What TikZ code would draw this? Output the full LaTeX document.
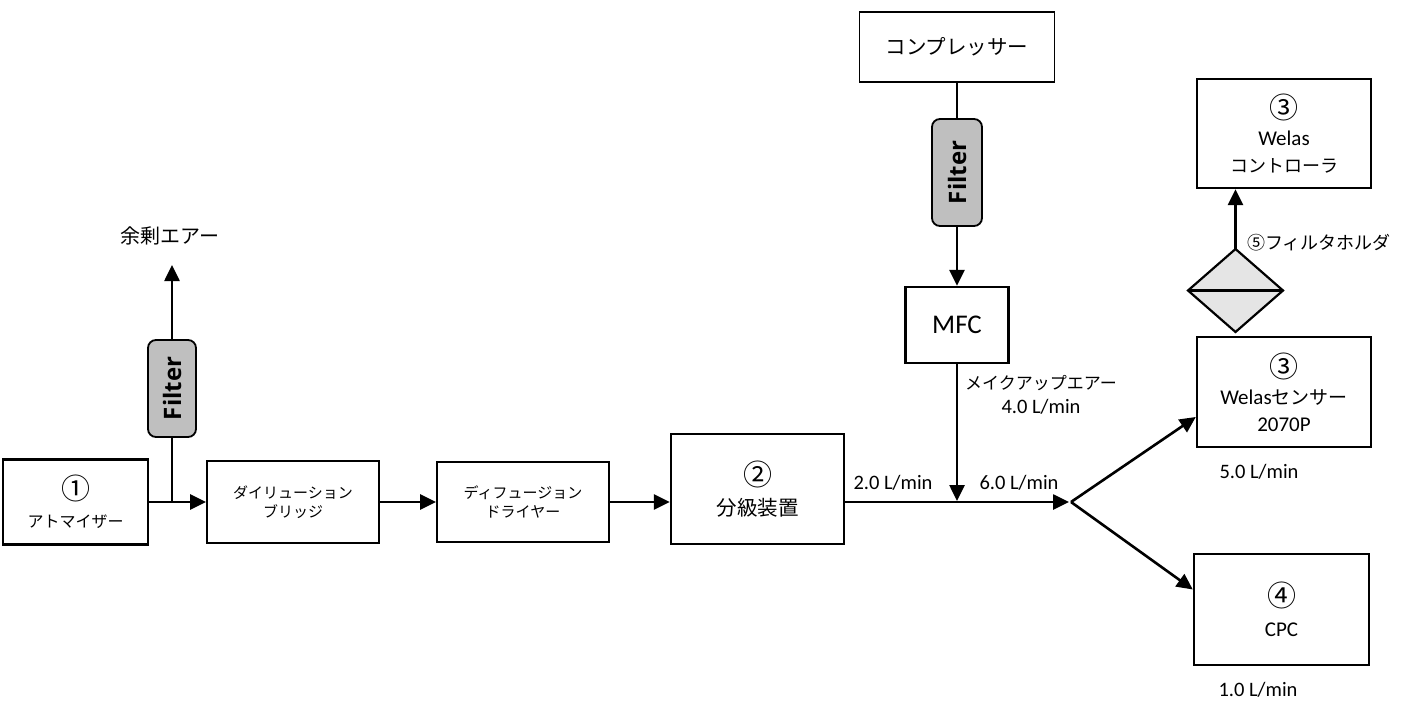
\documentclass[tikz,border=0pt]{standalone}
\usepackage{fontspec}
\usepackage{graphicx}
\newfontfamily\jpf{Noto Sans CJK JP}
\newfontfamily\calf{Carlito}
\newfontfamily\osbf{Open Sans}
\usetikzlibrary{arrows.meta}
\newcommand{\fsz}[1]{\fontsize{#1}{#1}\selectfont}
\tikzset{
  box/.style={draw, line width=2.4pt, inner sep=0pt, align=center},
  thinbox/.style={draw, line width=1.9pt, inner sep=0pt, align=center},
  filt/.style={draw, line width=1.8pt, rounded corners=8pt, fill=gray!50, inner sep=0pt, font=\osbf\bfseries\fsz{24}},
  arr/.style={line width=2.6pt, -{Triangle[length=16pt,width=15pt]}},
  ln/.style={line width=2.6pt},
  lbl/.style={inner sep=0pt, align=center},
}
\begin{document}
\begin{tikzpicture}[x=1pt,y=-1pt]
\useasboundingbox (0,0) rectangle (1409,704);

% boxes
\node[box, minimum width=145pt, minimum height=85pt, font=\jpf\fontsize{16}{28}\selectfont] (atom) at (75.5,502)
  {{\fsz{29}①}\\アトマイザー};
\node[thinbox, minimum width=172pt, minimum height=82pt, font=\jpf\fontsize{15}{19}\selectfont] (dil) at (293,502)
  {ダイリューション\\ブリッジ};
\node[thinbox, minimum width=172pt, minimum height=80pt, font=\jpf\fontsize{15}{19}\selectfont] (dry) at (523,502)
  {ディフュージョン\\ドライヤー};
\node[box, minimum width=173pt, minimum height=110pt, font=\jpf\fontsize{20.5}{30}\selectfont] (cls) at (757.5,489)
  {{\fsz{29}②}\\分級装置};
\node[thinbox, minimum width=195pt, minimum height=70pt, font=\jpf\fsz{20.5}] (comp) at (957,47) {コンプレッサー};
\node[filt, minimum width=50pt, minimum height=107pt] (f2) at (957,172.5) {\rotatebox{90}{Filter}};
\node[box, minimum width=103pt, minimum height=76pt, font=\calf\fsz{27}] (mfc) at (957,325) {MFC};
\node[filt, minimum width=48pt, minimum height=97pt] (f1) at (172,388.5) {\rotatebox{90}{Filter}};
\node[box, minimum width=174pt, minimum height=109pt, font=\fontsize{21}{27}\selectfont] (ctrl) at (1284,133.5)
  {{\jpf\fsz{29}③}\\{\calf Welas}\\{\jpf\fsz{18}コントローラ}};
\node[box, minimum width=174pt, minimum height=110pt, font=\fontsize{21}{27}\selectfont] (sens) at (1284,392)
  {{\jpf\fsz{29}③}\\{\calf Welas}{\jpf\fsz{19}センサー}\\{\calf 2070P}};
\node[box, minimum width=175pt, minimum height=111pt, font=\fontsize{21}{30}\selectfont] (cpc) at (1281.5,609.5)
  {{\jpf\fsz{29}④}\\{\calf CPC}};

% filter holder (diamond)
\coordinate (dtop) at (1235.5,249);
\coordinate (dbot) at (1235.5,332);
\coordinate (dl) at (1188,290.5);
\coordinate (dr) at (1283,290.5);
\filldraw[fill=gray!20, line width=2.2pt, line join=miter] (dtop) -- (dr) -- (dbot) -- (dl) -- cycle;
\draw[line width=3pt] (dl) -- (dr);

% coordinates
\coordinate (j1) at (172,502);
\coordinate (exair) at (172,265);
\coordinate (mix) at (957,502);
\coordinate (split) at (1071,502);

% connectors
\draw[arr] (atom.east) -- (dil.west);
\draw[ln] (j1) -- (f1.south);
\draw[arr] (f1.north) -- (exair);
\draw[arr] (dil.east) -- (dry.west);
\draw[arr] (dry.east) -- (dry.east -| cls.west);
\draw[arr] (cls.east |- split) -- ([xshift=-2pt]split);
\draw[ln] (comp.south) -- (f2.north);
\draw[arr] (f2.south) -- (mfc.north);
\draw[arr] (mfc.south) -- ([yshift=1pt]mix);
\draw[arr] (split) -- ([yshift=-25pt]sens.west);
\draw[arr] (split) -- ([yshift=20pt]cpc.west);
\draw[arr] (dtop) -- (dtop |- ctrl.south);

% labels
\node[lbl, font=\jpf\fsz{20}] (ex) at (170,236) {余剰エアー};
\node[lbl, font=\calf\fsz{20.5}] (q2) at (893,483) {2.0 L/min};
\node[lbl, font=\calf\fsz{20.5}] (q6) at (1019,483) {6.0 L/min};
\node[lbl, font=\jpf\fsz{17}] (mk) at (1041,383) {メイクアップエアー};
\node[lbl, font=\calf\fsz{20.5}] (q4) at (1041,407) {4.0 L/min};
\node[lbl, font=\calf\fsz{20.5}] (q5) at (1259,472) {5.0 L/min};
\node[lbl, font=\calf\fsz{20.5}] (q1) at (1258,690) {1.0 L/min};
\node[lbl, font=\jpf\fsz{18}, anchor=west] (fh) at (1247,243) {⑤フィルタホルダ};
\end{tikzpicture}
\end{document}
